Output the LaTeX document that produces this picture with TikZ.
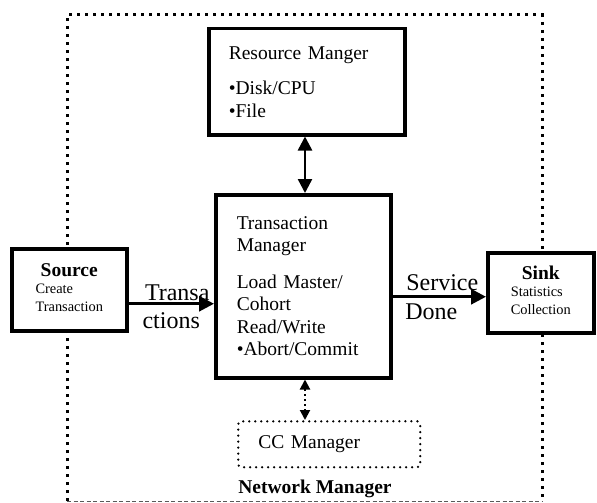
\documentclass[tikz,border=0pt]{standalone}
\usepackage{fontspec}
\setmainfont{Liberation Serif}
\usetikzlibrary{arrows.meta}

\begin{document}
\begin{tikzpicture}[x=1pt, y=-1pt,
    font=\fontsize{19.5}{22.5}\selectfont,
    box/.style={draw, line width=3.5pt, fill=white, anchor=north west, inner ysep=0pt},
    smalltext/.style={font=\fontsize{14.4}{17.5}\selectfont},
    biglabel/.style={anchor=base, inner sep=0pt, font=\fontsize{24}{26}\selectfont},
    flow/.style={line width=3pt, -{Triangle[length=15pt,width=15pt]}},
    biflow/.style={line width=2.5pt, {Triangle[length=14pt,width=14pt]}-{Triangle[length=14pt,width=14pt]}},
    ccflow/.style={line width=2pt, dash pattern=on 2pt off 3pt,
        {Triangle[length=10pt,width=10pt]}-{Triangle[length=10pt,width=10pt]}},
    ccbox/.style={draw, line width=2.5pt, line cap=round, dash pattern=on 0pt off 6pt,
        rounded corners=3pt, anchor=north west}]
    \useasboundingbox (0,0) rectangle (597,503);

    % Network manager boundary
    \draw[line width=3pt, dash pattern=on 3pt off 5pt] (67,501) -- (67,15) -- (542,15) -- (542,501);
    \draw[gray!70!black, line width=0.8pt, dash pattern=on 4pt off 2.5pt] (67,501) -- (542,501);

    % Boxes
    \node[box, minimum width=196pt, minimum height=106pt, inner xsep=20pt,
        text width=156pt, align=left] (res) at (207,27)
        {Resource Manger\\[13pt]\textbullet Disk/CPU\\\textbullet File};
    \node[box, minimum width=175pt, minimum height=183pt, inner xsep=21pt,
        text width=133pt, align=left] (tm) at (214,193)
        {Transaction\\Manager\\[14pt]Load Master/\\Cohort\\Read/Write\\\textbullet Abort/Commit};
    \node[box, smalltext, minimum width=115pt, minimum height=82pt, align=center] (src) at (10,247)
        {\begin{tabular}{@{}l@{}}\multicolumn{1}{@{}c@{}}{\fontsize{19.5}{20}\selectfont\bfseries Source}\\Create\\Transaction\end{tabular}};
    \node[box, smalltext, minimum width=106pt, minimum height=80pt, align=center] (sink) at (486,251)
        {\begin{tabular}{@{}l@{}}\multicolumn{1}{@{}c@{}}{\fontsize{19.5}{20}\selectfont\bfseries Sink}\\Statistics\\Collection\end{tabular}};
    \node[ccbox, minimum width=182pt, minimum height=46pt, inner xsep=20pt,
        text width=142pt, align=left] (cc) at (237,420) {CC Manager};
    \node[font=\fontsize{19.5}{20}\selectfont\bfseries] (net) at (315,489) {Network Manager};

    % Connectors
    \coordinate (tin) at ([yshift=-14pt]src.east);
    \coordinate (tout) at ([yshift=-10.5pt]tm.east);
    \coordinate (mid) at (305,0);
    \draw[flow] (tin) -- (tin -| tm.west)
        node[biglabel, midway, xshift=6pt, yshift=3pt] (transa) {Transa}
        node[biglabel, midway, xshift=0pt, yshift=-25pt] (ctions) {ctions};
    \draw[flow] (tout) -- (tout -| sink.west)
        node[biglabel, midway, xshift=3pt, yshift=6pt] (service) {Service}
        node[biglabel, midway, xshift=-8pt, yshift=-23pt] (done) {Done};
    \draw[biflow] (mid |- res.south) -- (mid |- tm.north);
    \draw[ccflow] (mid |- tm.south) -- (mid |- cc.north);
\end{tikzpicture}
\end{document}
